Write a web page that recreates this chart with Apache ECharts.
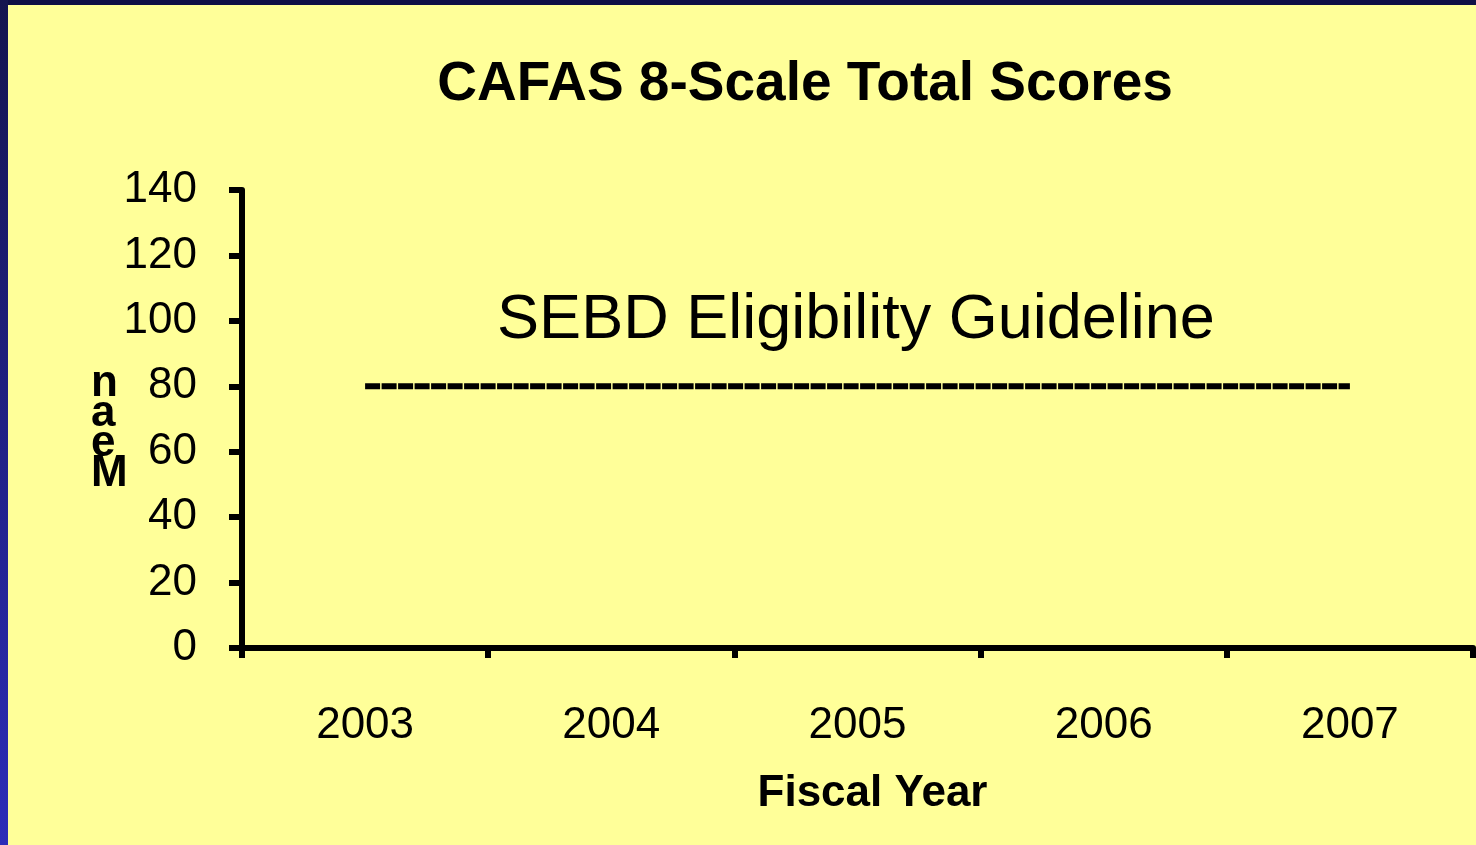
<!DOCTYPE html>
<html style="height: 100%">
<head>
    <meta charset="utf-8">
    <script src="https://cdn.jsdelivr.net/npm/echarts@6/dist/echarts.min.js"></script>
</head>
<body style="height: 100%; margin: 0">
<div id="container" style="width: 1476px; height: 845px"></div>

<script type="text/javascript">
    // data
    var years = ['2003', '2004', '2005', '2006', '2007'];
    var guideline = [80, 80, 80, 80, 80];
    var yTicks = [0, 20, 40, 60, 80, 100, 120, 140];

    var font = '"Liberation Sans", Arial, sans-serif';
    var dom = document.getElementById("container");
    var myChart = echarts.init(dom);

    var option = {
        backgroundColor: '#FFFF99',
        animation: false,
        title: {
            text: 'CAFAS 8-Scale Total Scores',
            left: 800,
            top: 52,
            textAlign: 'center',
            textStyle: {
                fontFamily: font,
                fontSize: 55,
                fontWeight: 'bold',
                color: '#000'
            }
        },
        graphic: [
            { type: 'rect', left: 0, top: 0, z: 100,
              shape: { width: 1476, height: 5 },
              style: { fill: '#0f0f45' } },
            { type: 'rect', left: 0, top: 0, z: 100,
              shape: { width: 8, height: 845 },
              style: { fill: new echarts.graphic.LinearGradient(0, 0, 0, 1, [
                  { offset: 0, color: '#14144f' },
                  { offset: 1, color: '#2c2cb8' }
              ]) } },
            { type: 'text', left: 91, top: 362,
              style: {
                  text: 'n\na\ne\nM',
                  font: 'bold 44px ' + font,
                  lineHeight: 30,
                  fill: '#000'
              } },
            { type: 'text', x: 856, y: 321,
              style: {
                  text: 'SEBD Eligibility Guideline',
                  font: '63px ' + font,
                  align: 'center',
                  verticalAlign: 'middle',
                  fill: '#000'
              } }
        ],
        grid: {
            left: 242,
            right: 3,
            top: 190,
            bottom: 197
        },
        xAxis: {
            type: 'category',
            data: years,
            boundaryGap: true,
            name: 'Fiscal Year',
            nameLocation: 'middle',
            nameGap: 124,
            nameTextStyle: {
                fontFamily: font,
                fontSize: 44,
                fontWeight: 'bold',
                color: '#000',
                padding: [0, 0, 0, 30]
            },
            axisLine: { show: true, lineStyle: { color: '#000', width: 6 } },
            axisTick: { show: true, length: 10, lineStyle: { color: '#000', width: 6 } },
            axisLabel: {
                margin: 56,
                fontFamily: font,
                fontSize: 44,
                color: '#000'
            },
            splitLine: { show: false }
        },
        yAxis: {
            type: 'value',
            min: yTicks[0],
            max: yTicks[yTicks.length - 1],
            interval: 20,
            axisLine: { show: true, lineStyle: { color: '#000', width: 6 } },
            axisTick: { show: true, length: 13, lineStyle: { color: '#000', width: 6 } },
            axisLabel: {
                margin: 45,
                fontFamily: font,
                fontSize: 44,
                color: '#000'
            },
            splitLine: { show: false }
        },
        series: [
            {
                name: 'SEBD Eligibility Guideline',
                type: 'line',
                data: guideline,
                symbol: 'none',
                lineStyle: {
                    color: '#000',
                    width: 6,
                    type: [15, 1.5]
                }
            }
        ]
    };
    myChart.setOption(option);
</script>
</body>
</html>
